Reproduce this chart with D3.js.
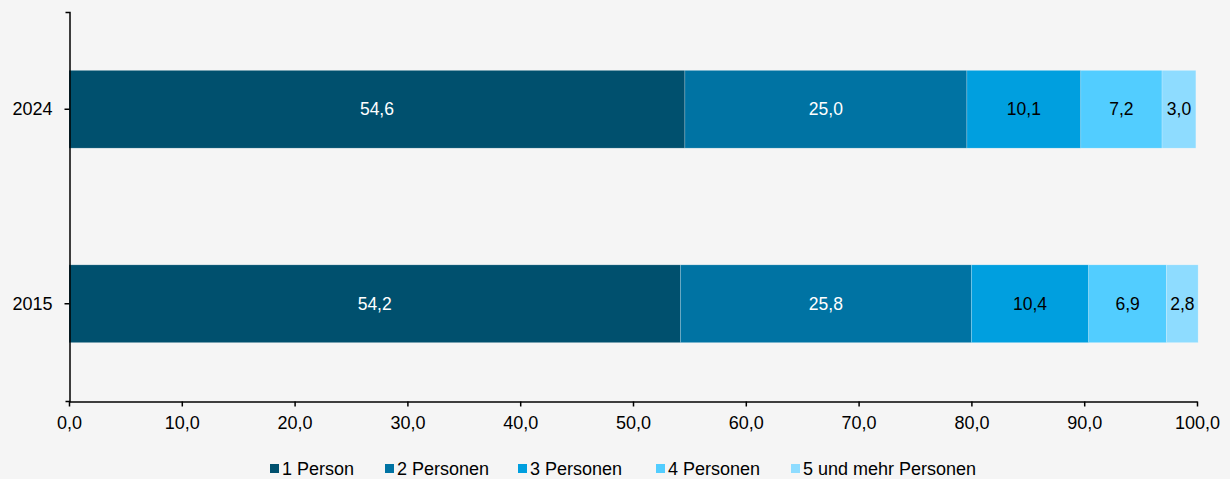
<!DOCTYPE html>
<html lang="de">
<head>
<meta charset="UTF-8">
<title>Haushalte nach Größe</title>
<style>
  body { margin: 0; background: #f5f5f5; }
  svg { display: block; font-family: Arial, "Liberation Sans", sans-serif; }
</style>
</head>
<body>
<div id="chart"></div>
<script src="https://d3js.org/d3.v7.min.js"></script>
<script>
  var years = ['2024', '2015']
  var series = ['1 Person', '2 Personen', '3 Personen', '4 Personen', '5 und mehr Personen']
  var values2024 = [54.6, 25.0, 10.1, 7.2, 3.0]
  var values2015 = [54.2, 25.8, 10.4, 6.9, 2.8]
  var xTicks = [0, 10, 20, 30, 40, 50, 60, 70, 80, 90, 100]

  var colors = ['#00506e', '#0073a3', '#009fdf', '#52cdff', '#8edcff']
  var labelColors = ['#fff', '#fff', '#000', '#000', '#000']
  var fontFamily = 'Arial, "Liberation Sans", sans-serif'

  var width = 1230, height = 479
  var margin = {top: 12, left: 69, right: 33, bottom: 78}

  var rows = [
    {year: '2024', values: values2024},
    {year: '2015', values: values2015}
  ]

  var svg = d3.select('#chart').append('svg')
    .attr('width', width)
    .attr('height', height)

  svg.append('rect').attr('width', width).attr('height', height).attr('fill', '#f5f5f5')

  var x = d3.scaleLinear().domain([0, 100]).range([margin.left, width - margin.right])
  var y = d3.scaleBand().domain(years).range([margin.top, height - margin.bottom]).paddingInner(0.6).paddingOuter(0.3)

  var fmt = function (v) { return d3.format('.1f')(v).replace('.', ',') }

  // stacked segments
  rows.forEach(function (row) {
    var acc = 0
    var segs = row.values.map(function (v, i) {
      var s = {start: acc, end: acc + v, v: v, i: i}
      acc += v
      return s
    })
    var g = svg.append('g')
    g.selectAll('rect')
      .data(segs)
      .enter()
      .append('rect')
      .attr('x', function (d) { return x(d.start) })
      .attr('y', y(row.year))
      .attr('width', function (d) { return x(d.end) - x(d.start) })
      .attr('height', y.bandwidth())
      .attr('fill', function (d) { return colors[d.i] })
      .attr('stroke', 'rgba(255,255,255,0.35)')
      .attr('stroke-width', 0.6)
    g.selectAll('text')
      .data(segs)
      .enter()
      .append('text')
      .attr('x', function (d) { return (x(d.start) + x(d.end)) / 2 })
      .attr('y', y(row.year) + y.bandwidth() / 2)
      .attr('dy', '0.35em')
      .attr('text-anchor', 'middle')
      .attr('font-size', 17.5)
      .attr('fill', function (d) { return labelColors[d.i] })
      .text(function (d) { return fmt(d.v) })
  })

  // x axis
  var xAxis = d3.axisBottom(x).tickValues(xTicks).tickFormat(fmt).tickSize(5).tickSizeOuter(0)
  var gx = svg.append('g')
    .attr('transform', 'translate(0,' + (height - margin.bottom + 0.5) + ')')
    .call(xAxis)
  gx.select('.domain').attr('stroke', '#000').attr('stroke-width', 1.5)
  gx.selectAll('.tick line').attr('stroke', '#000').attr('stroke-width', 1.5)
  gx.selectAll('.tick text').attr('font-size', 18).attr('fill', '#000')
    .attr('y', 15).attr('dy', '0.71em')
    .attr('font-family', fontFamily)

  // y axis
  var yAxis = d3.axisLeft(y).tickSize(5).tickSizeOuter(4)
  var gy = svg.append('g')
    .attr('transform', 'translate(' + (margin.left + 0.5) + ',0)')
    .call(yAxis)
  gy.select('.domain').attr('stroke', '#000').attr('stroke-width', 1.5)
  gy.selectAll('.tick line').attr('stroke', '#000').attr('stroke-width', 1.5)
  gy.selectAll('.tick text').attr('font-size', 18).attr('fill', '#000').attr('x', -17)
    .attr('font-family', fontFamily)

  // legend
  var legendTextX = [282, 397, 530, 668, 803]
  var legend = svg.append('g')
  series.forEach(function (name, i) {
    legend.append('rect')
      .attr('x', legendTextX[i] - 12).attr('y', 464)
      .attr('width', 9).attr('height', 9)
      .attr('fill', colors[i])
    legend.append('text')
      .attr('x', legendTextX[i]).attr('y', 475)
      .attr('font-size', 18)
      .attr('fill', '#000')
      .text(name)
  })
</script>
</body>
</html>
